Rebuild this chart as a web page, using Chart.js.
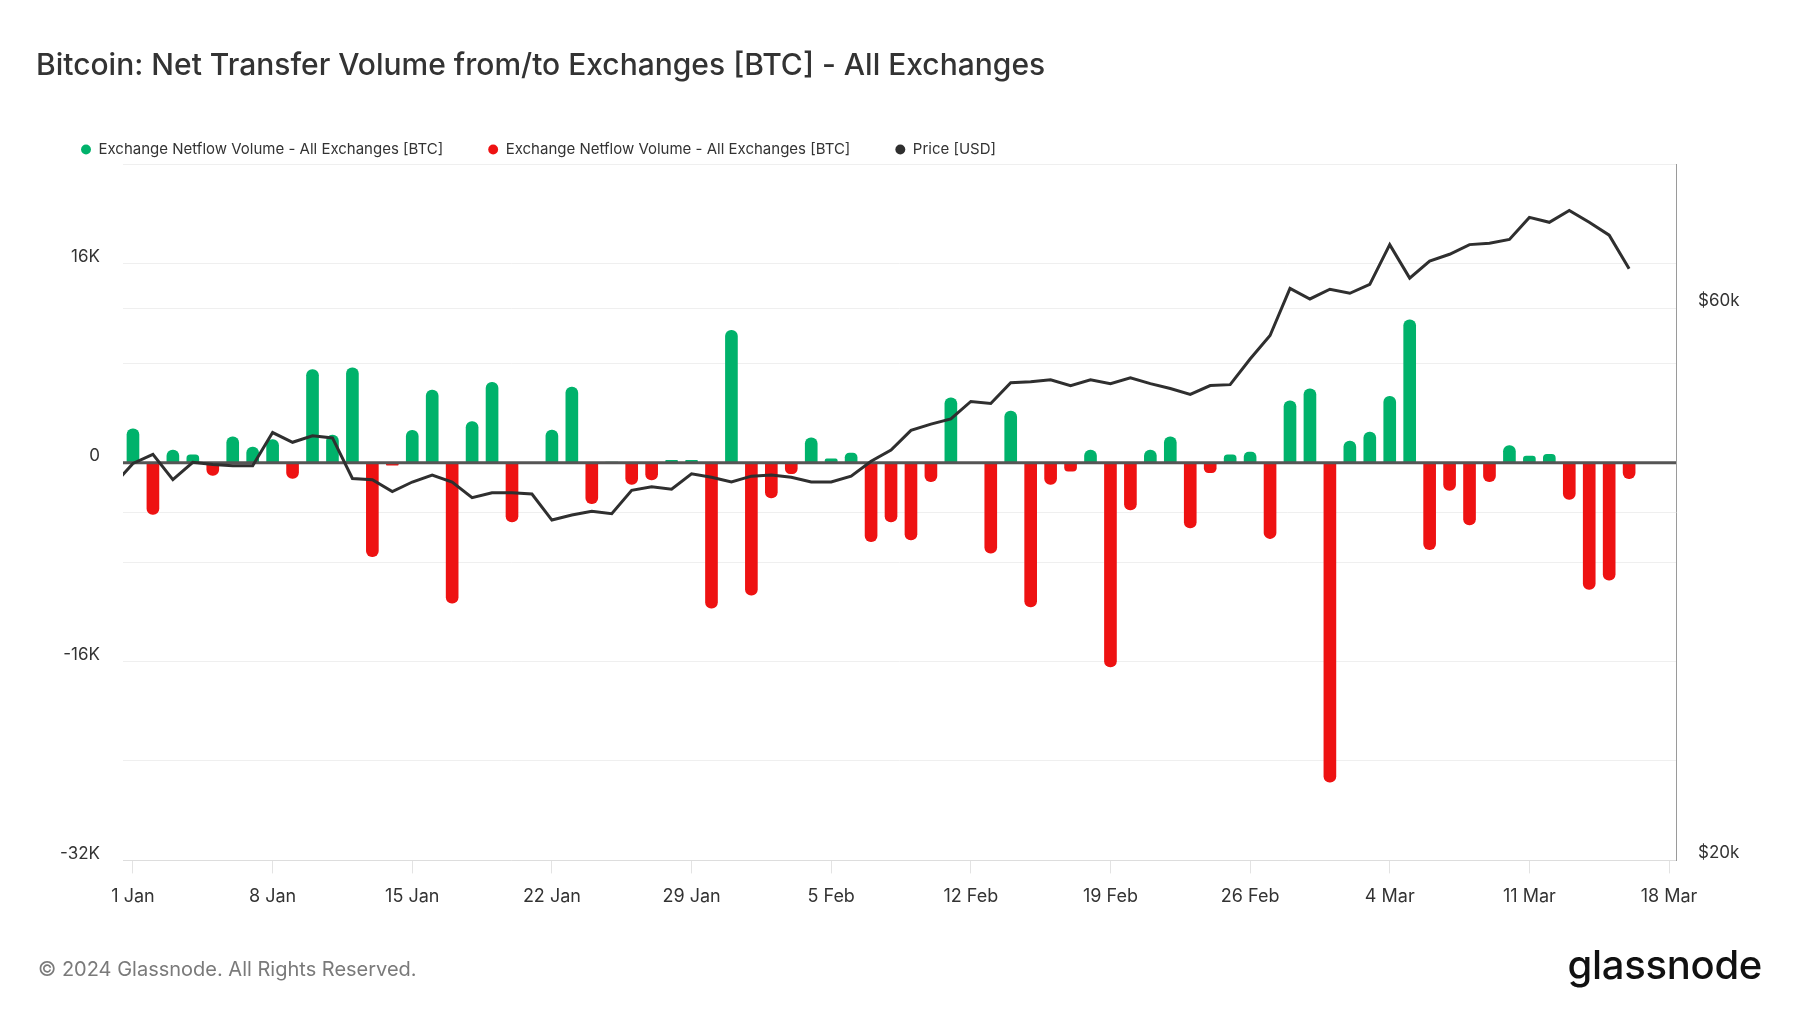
<!DOCTYPE html>
<html lang="en">
<head>
<meta charset="UTF-8">
<title>Bitcoin: Net Transfer Volume from/to Exchanges [BTC]</title>
<script src="https://cdn.jsdelivr.net/npm/chart.js@4.4.1/dist/chart.umd.min.js"></script>
<style>
  html, body { margin: 0; padding: 0; background: #fff; }
  #wrap { position: relative; width: 1800px; height: 1013px; }
</style>
</head>
<body>
<div id="wrap"><canvas id="chart"></canvas></div>
<script>
// DATA - one value per day, 1 Jan 2024 (day 0) .. 16 Mar 2024 (day 75)
const netflowBtc = [
   2730, -4150,  1020,   640, -1020,  2090,  1260,  1870, -1260,  7500,
   2220,  7630, -7550,  -190,  2600,  5840,-11300,  3320,  6480, -4770,
      0,  2620,  6080, -3290,    50, -1740, -1390,   190,   190,-11700,
  10660,-10660, -2840,  -880,  2000,   320,   780, -6350, -4770, -6210,
  -1530,  5220,     0, -7280,  4150,-11600, -1740,  -670,  1020,-16440,
  -3800,  1020,  2090, -5250,  -800,   640,   860, -6100,  4980,  5940,
 -25700,  1740,  2460,  5350, 11500, -7000, -2220, -5000, -1530,  1390,
    540,   670, -2950,-10200, -9450, -1290
];

// BTC price in $k, starting one day earlier (31 Dec 2023 = day -1)
const priceFirstDay = -1;
const priceUsdK = [
  42.2,
  44.1, 44.9, 42.7, 44.2, 44.0, 43.9, 43.9, 46.9, 46.0, 46.6,
  46.4, 42.8, 42.7, 41.7, 42.5, 43.1, 42.5, 41.2, 41.6, 41.6,
  41.5, 39.4, 39.8, 40.1, 39.9, 41.8, 42.1, 41.9, 43.2, 42.9,
  42.5, 43.0, 43.1, 42.9, 42.5, 42.5, 43.0, 44.3, 45.3, 47.1,
  47.7, 48.2, 49.9, 49.7, 51.8, 51.9, 52.1, 51.5, 52.1, 51.7,
  52.3, 51.7, 51.2, 50.6, 51.5, 51.6, 54.3, 56.9, 62.5, 61.2,
  62.4, 61.9, 63.0, 68.2, 63.8, 66.0, 66.9, 68.2, 68.4, 68.9,
  72.0, 71.3, 73.0, 71.3, 69.5, 65.0
];

const tickDays   = [0, 7, 14, 21, 28, 35, 42, 49, 56, 63, 70, 77];
const tickLabels = ['1 Jan', '8 Jan', '15 Jan', '22 Jan', '29 Jan', '5 Feb',
                    '12 Feb', '19 Feb', '26 Feb', '4 Mar', '11 Mar', '18 Mar'];

const leftTickValues = [-32000, -24000, -16000, -8000, 0, 8000, 16000, 24000];
const leftTickLabels = ['-32K', '', '-16K', '', '0', '', '16K', ''];

const rightTickValues = [20000, 40000, 60000, 80000];
const rightTickLabels = ['$20k', '', '$60k', ''];

const GREEN = '#00b26b';
const RED = '#ee1212';
const DARK = '#2f2f2f';
const LEGEND_TEXT = 'Exchange Netflow Volume - All Exchanges [BTC]';

// --- datasets built from the arrays above ---
const inflowPoints = netflowBtc.map((v, i) => ({ x: i, y: v > 0 ? v : null }));
const outflowPoints = netflowBtc.map((v, i) => ({ x: i, y: v < 0 ? v : null }));
const pricePoints = priceUsdK.map((v, i) => ({ x: i + priceFirstDay, y: v * 1000 }));

// legend box is a bit taller than the gap above the plot; trim it
const legendHeightFix = {
  id: 'legendHeightFix',
  beforeInit(chart) {
    if (!chart.legend) return;
    const fit = chart.legend.fit;
    chart.legend.fit = function () { fit.call(this); this.height -= 2.5; };
  }
};

// dark zero line, above the bars but under the price line
const zeroLine = {
  id: 'zeroLine',
  beforeDatasetDraw(chart, args) {
    if (args.index !== 2) return;
    const { ctx, chartArea, scales } = chart;
    const y = scales.y.getPixelForValue(0);
    ctx.save();
    ctx.strokeStyle = '#555555';
    ctx.lineWidth = 3;
    ctx.beginPath();
    ctx.moveTo(chartArea.left, y);
    ctx.lineTo(chartArea.right, y);
    ctx.stroke();
    ctx.restore();
  }
};

// copyright and wordmark under the chart
const footer = {
  id: 'footer',
  afterDraw(chart) {
    const ctx = chart.ctx;
    ctx.save();
    ctx.textBaseline = 'alphabetic';
    ctx.textAlign = 'left';
    ctx.fillStyle = '#7a7a7a';
    ctx.font = '20px Inter';
    ctx.fillText('\u00a9 2024 Glassnode. All Rights Reserved.', 38, 976);
    ctx.textAlign = 'right';
    ctx.fillStyle = '#111111';
    ctx.font = '500 40px Inter';
    ctx.letterSpacing = '-0.3px';
    ctx.fillText('glassnode', 1762, 979);
    ctx.restore();
  }
};

Chart.defaults.font.family = 'Inter';
Chart.defaults.color = '#333333';

new Chart(document.getElementById('chart'), {
  type: 'bar',
  data: {
    datasets: [
      {
        label: LEGEND_TEXT,
        data: inflowPoints,
        backgroundColor: GREEN,
        barThickness: 12,
        borderRadius: 6,
        borderSkipped: 'start',
        grouped: false,
        yAxisID: 'y',
        order: 1
      },
      {
        label: LEGEND_TEXT,
        data: outflowPoints,
        backgroundColor: RED,
        barThickness: 12,
        borderRadius: 6,
        borderSkipped: 'start',
        grouped: false,
        yAxisID: 'y',
        order: 1
      },
      {
        type: 'line',
        label: 'Price [USD]',
        data: pricePoints,
        borderColor: DARK,
        backgroundColor: DARK,
        borderWidth: 3,
        pointRadius: 0,
        tension: 0,
        yAxisID: 'price',
        order: 0
      }
    ]
  },
  options: {
    responsive: true,
    maintainAspectRatio: false,
    animation: false,
    events: [],
    layout: { padding: { left: 36, right: 0, top: 0, bottom: 94 } },
    plugins: {
      tooltip: { enabled: false },
      title: {
        display: true,
        text: 'Bitcoin: Net Transfer Volume from/to Exchanges [BTC] - All Exchanges',
        align: 'start',
        color: '#333333',
        font: { size: 30, weight: '500' },
        padding: { top: 48, bottom: 13 }
      },
      legend: {
        position: 'top',
        align: 'start',
        labels: {
          usePointStyle: true,
          pointStyle: 'circle',
          boxWidth: 10,
          boxHeight: 7,
          padding: 45,
          color: '#333333',
          font: { size: 15 },
          sort: (a, b) => a.datasetIndex - b.datasetIndex,
          generateLabels: chart =>
            Chart.defaults.plugins.legend.labels.generateLabels(chart)
              .map(item => Object.assign(item, { lineWidth: 0 }))
        }
      }
    },
    scales: {
      x: {
        type: 'linear',
        min: -0.5,
        max: 77.35,
        offset: false,
        afterBuildTicks: s => { s.ticks = tickDays.map(v => ({ value: v })); },
        ticks: {
          autoSkip: false,
          maxRotation: 0,
          padding: 12,
          color: '#333333',
          font: { size: 18 },
          callback: v => tickLabels[tickDays.indexOf(v)] || ''
        },
        grid: { offset: false, drawOnChartArea: false, tickLength: 13, color: '#e3e3e3' },
        border: { color: '#dddddd' }
      },
      y: {
        position: 'left',
        min: -32000,
        max: 24000,
        afterBuildTicks: s => { s.ticks = leftTickValues.map(v => ({ value: v })); },
        afterFit: s => { s.width = 87; },
        ticks: {
          labelOffset: -7,
          padding: 23,
          color: '#333333',
          font: { size: 17 },
          callback: v => leftTickLabels[leftTickValues.indexOf(v)] || ''
        },
        grid: { color: '#efefef', drawTicks: false },
        border: { display: false }
      },
      price: {
        type: 'logarithmic',
        position: 'right',
        min: 20000,
        max: 80000,
        afterBuildTicks: s => { s.ticks = rightTickValues.map(v => ({ value: v })); },
        afterFit: s => { s.width = 124; },
        ticks: {
          labelOffset: -8,
          padding: 22,
          color: '#333333',
          font: { size: 17 },
          callback: v => rightTickLabels[rightTickValues.indexOf(v)] || ''
        },
        grid: { color: '#efefef', drawTicks: false },
        border: { color: '#9a9a9a', width: 1 }
      }
    }
  },
  plugins: [legendHeightFix, zeroLine, footer]
});
</script>
</body>
</html>
